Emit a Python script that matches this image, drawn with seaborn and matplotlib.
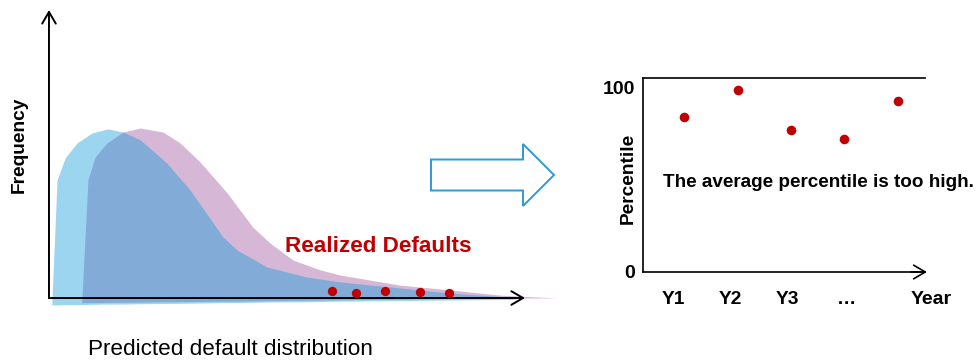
import matplotlib
matplotlib.use("Agg")
import matplotlib.pyplot as plt
from matplotlib.patches import FancyArrow
import seaborn as sns
import pandas as pd

# ---- data ----
# predicted default distribution curves (x: default level, y: frequency)
model_x = [0.6, 1.7, 3.4, 5.9, 9.1, 12.4, 15.6, 19.2, 24.8, 29.7, 36.6, 39.6, 45.9,
           54.3, 61.3, 73.9, 84.4, 97.0, 98.5]
model_y = [-1.7, 41.1, 48.8, 54.0, 57.5, 58.9, 57.8, 55.1, 47.0, 37.6, 21.3, 16.7, 10.8,
           7.3, 5.6, 3.5, 1.7, 0.3, -0.4]
model_base = [-2.4, -2.4, -2.3, -2.3, -2.2, -2.1, -2.1, -2.0, -1.9, -1.8, -1.6, -1.6, -1.4,
              -1.3, -1.1, -0.9, -0.7, -0.5, -0.4]
true_x = [6.9, 8.2, 9.7, 12.2, 15.6, 19.2, 24.0, 27.6, 31.8, 37.5, 42.9, 46.5, 51.4,
          57.1, 61.3, 73.9, 84.4, 95.0, 107.0]
true_y = [-1.4, 41.1, 49.1, 54.0, 57.8, 59.2, 57.8, 54.0, 47.4, 36.6, 24.7, 19.2, 13.2,
          9.8, 8.0, 4.5, 2.8, 1.0, 0.0]
true_base = [-1.6, -1.6, -1.6, -1.5, -1.5, -1.4, -1.3, -1.3, -1.2, -1.1, -1.0, -0.9, -0.8,
             -0.7, -0.6, -0.4, -0.2, 0.0, 0.0]

# realized defaults on the distribution
realized_x = [59.6, 64.6, 70.7, 78.1, 84.2]
realized_y = [2.4, 1.7, 2.4, 2.1, 1.7]

# percentile of realized defaults per year
years = [1, 2, 3, 4, 5]
percentile = [84, 99, 77, 72, 93]
tick_pos = [0.8, 1.87, 2.94, 4.04]
tick_labels = ["Y1", "Y2", "Y3", "\u2026"]

RED = "#C00000"

sns.set_theme(style="white")
plt.rcParams["font.family"] = ["Liberation Sans", "DejaVu Sans"]
plt.rcParams["text.color"] = "black"
plt.rcParams["xtick.color"] = "black"
plt.rcParams["ytick.color"] = "black"
plt.rcParams["axes.labelcolor"] = "black"

W, H = 977, 360
fig = plt.figure(figsize=(W / 100, H / 100), dpi=100)

# ---------------- left panel ----------------
axL = fig.add_axes([40 / W, (H - 308) / H, (562 - 40) / W, (308 - 8) / H])

axL.fill_between(true_x, true_base, true_y, color="#D6B8D6", lw=0, zorder=1)
axL.fill_between(model_x, model_base, model_y, color="#0598D9", alpha=0.40, lw=0, zorder=2)

ap = dict(arrowstyle="->,head_length=0.6,head_width=0.35", lw=1.4, color="black",
          shrinkA=0, shrinkB=0, mutation_scale=14)
axL.annotate("", xy=(100.2, 0), xytext=(0, 0), arrowprops=ap, zorder=3)
axL.annotate("", xy=(0, 100.3), xytext=(0, 0), arrowprops=ap, zorder=3)

dfL = pd.DataFrame({"x": realized_x, "y": realized_y})
sns.scatterplot(data=dfL, x="x", y="y", ax=axL, color=RED, s=45, linewidth=0, zorder=4)
axL.set_xlim(-1.89, 108.0)
axL.set_ylim(-3.48, 101.0)
axL.axis("off")

axL.text(49.7, 18.1, "Realized Defaults", color=RED, fontsize=16.2, fontweight="bold",
         ha="left", va="center")
axL.text(-6.3, 53.3, "Frequency", rotation=90, fontsize=13.8, fontweight="bold",
         ha="center", va="center", clip_on=False)
axL.text(38.1, -17.8, "Predicted default distribution", fontsize=16.2,
         ha="center", va="center", clip_on=False)

# ---------------- block arrow ----------------
arrow = FancyArrow(4.31, (H - 175) / 100, 1.23, 0, width=0.31, head_width=0.62,
                   head_length=0.31, length_includes_head=True,
                   transform=fig.dpi_scale_trans, fc="white", ec="#2E9AD6", lw=1.4)
fig.add_artist(arrow)

# ---------------- right panel ----------------
axR = fig.add_axes([643 / W, (H - 272) / H, 282 / W, 194 / H])
dfR = pd.DataFrame({"year": years, "pct": percentile})
sns.scatterplot(data=dfR, x="year", y="pct", ax=axR, color=RED, s=48, linewidth=0,
                zorder=4, clip_on=False)
axR.set_xlim(0.232, 5.506)
axR.set_ylim(0, 105.4)
for side in ["left", "top", "bottom"]:
    axR.spines[side].set_visible(True)
    axR.spines[side].set_color("black")
    axR.spines[side].set_linewidth(1.2)
axR.spines["right"].set_visible(False)
axR.set_xlabel("")
axR.set_ylabel("")
axR.set_yticks([0, 100])
axR.set_yticklabels(["0", "100"], fontsize=14, fontweight="bold")
axR.set_xticks(tick_pos)
axR.set_xticklabels(tick_labels, fontsize=13.8, fontweight="bold")
axR.tick_params(axis="both", length=0)
axR.tick_params(axis="y", pad=6)
axR.tick_params(axis="x", pad=14)
axR.annotate("", xy=(1.007, 0), xytext=(0.95, 0), xycoords="axes fraction",
             arrowprops=dict(arrowstyle="->,head_length=0.6,head_width=0.35", lw=1.2,
                             color="black", shrinkA=0, shrinkB=0, mutation_scale=14))
axR.text(5.62, -15.2, "Year", fontsize=14, fontweight="bold", ha="center", va="center",
         clip_on=False)
axR.text(-0.053, 0.485, "Percentile", transform=axR.transAxes, rotation=90, fontsize=13.8,
         fontweight="bold", ha="center", va="center")
axR.text(0.071, 0.459, "The average percentile is too high.", transform=axR.transAxes,
         fontsize=13.6, fontweight="bold", ha="left", va="center")

fig.savefig("out.png", dpi=100)
